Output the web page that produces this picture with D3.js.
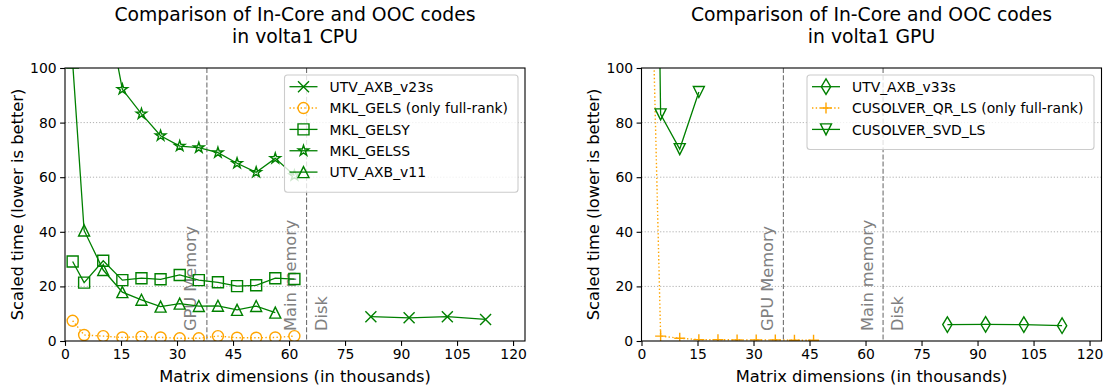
<!DOCTYPE html>
<html><head><meta charset="utf-8">
<script src="https://cdn.jsdelivr.net/npm/d3@7"></script>
<style>body{margin:0;background:#fff;} text{font-family:"DejaVu Sans",sans-serif;}</style>
</head><body><svg id="c" width="1108" height="387"></svg>
<script>
// ---------- data ----------
const xCore = [2.048, 5.12, 10.24, 15.36, 20.48, 25.6, 30.72, 35.84, 40.96, 46.08, 51.2, 56.32, 61.44];
const xOOC = [81.92, 92.16, 102.4, 112.64];
const xGelss = [10.24, 15.36, 20.48, 25.6, 30.72, 35.84, 40.96, 46.08, 51.2, 56.32, 61.44];
const xV11 = [2.048, 5.12, 10.24, 15.36, 20.48, 25.6, 30.72, 35.84, 40.96, 46.08, 51.2, 56.32];
const xQR = [2.048, 5.12, 10.24, 15.36, 20.48, 25.6, 30.72, 35.84, 40.96, 46.08];
const xSVD = [2.048, 5.12, 10.24, 15.36];

const yV23s = [8.9, 8.5, 8.9, 7.9];
const yGels = [7.4, 2.2, 1.8, 1.3, 1.6, 1.3, 1.0, 1.0, 1.8, 1.2, 1.2, 1.3, 1.8];
const yGelsy = [29.1, 21.4, 29.4, 22.3, 23.0, 22.6, 24.2, 22.3, 21.5, 20.1, 20.4, 23.0, 22.7];
const yGelss = [129, 92.2, 83.2, 75.2, 71.4, 70.8, 69.0, 65.1, 61.8, 66.9, 60.6];
const yV11 = [102, 40.5, 26.0, 17.9, 15.1, 12.6, 13.7, 12.8, 12.9, 11.4, 12.8, 10.4];
const yV33s = [6.0, 6.1, 6.0, 5.6];
const yQR = [175, 1.8, 1.0, 0.5, 0.5, 0.4, 0.4, 0.4, 0.3, 0.3];
const ySVD = [400, 83.0, 70.3, 91.2];

const xTicks = [0, 15, 30, 45, 60, 75, 90, 105, 120];
const yTicks = [0, 20, 40, 60, 80, 100];
const gpuMem = 38, mainMem = 64.7;

const GREEN = "#008000", ORANGE = "#FFA500";

const panels = [
  {
    title: ["Comparison of In-Core and OOC codes", "in volta1 CPU"],
    left: 65,
    mainText: "Main memory",
    series: [
      {name: "UTV_AXB_v23s", x: xOOC, y: yV23s, color: GREEN, marker: "x", dotted: false},
      {name: "MKL_GELS (only full-rank)", x: xCore, y: yGels, color: ORANGE, marker: "o", dotted: true},
      {name: "MKL_GELSY", x: xCore, y: yGelsy, color: GREEN, marker: "s", dotted: false},
      {name: "MKL_GELSS", x: xGelss, y: yGelss, color: GREEN, marker: "*", dotted: false},
      {name: "UTV_AXB_v11", x: xV11, y: yV11, color: GREEN, marker: "^", dotted: false}
    ],
    legend: {x: 284.5, w: 233.5}
  },
  {
    title: ["Comparison of In-Core and OOC codes", "in volta1 GPU"],
    left: 641.5,
    mainText: "Main memory",
    series: [
      {name: "UTV_AXB_v33s", x: xOOC, y: yV33s, color: GREEN, marker: "d", dotted: false},
      {name: "CUSOLVER_QR_LS (only full-rank)", x: xQR, y: yQR, color: ORANGE, marker: "+", dotted: true},
      {name: "CUSOLVER_SVD_LS", x: xSVD, y: ySVD, color: GREEN, marker: "v", dotted: false}
    ],
    legend: {x: 807, w: 287}
  }
];

// ---------- drawing ----------
const svg = d3.select("#c");
const W = 460, TOP = 68, BOT = 341;
const M = 5.5; // half marker size

function markerPath(type) {
  const p = d3.path();
  switch (type) {
    case "x": p.moveTo(-M,-M); p.lineTo(M,M); p.moveTo(-M,M); p.lineTo(M,-M); break;
    case "+": p.moveTo(-M,0); p.lineTo(M,0); p.moveTo(0,-M); p.lineTo(0,M); break;
    case "s": p.rect(-M,-M,2*M,2*M); break;
    case "o": p.moveTo(M,0); p.arc(0,0,M,0,2*Math.PI); p.closePath(); break;
    case "^": p.moveTo(0,-M); p.lineTo(-M,M); p.lineTo(M,M); p.closePath(); break;
    case "v": p.moveTo(0,M); p.lineTo(-M,-M); p.lineTo(M,-M); p.closePath(); break;
    case "d": { const h = M*1.4142, w = h*0.6; p.moveTo(0,-h); p.lineTo(w,0); p.lineTo(0,h); p.lineTo(-w,0); p.closePath(); break; }
    case "*": {
      const ri = M*0.381966;
      for (let i = 0; i < 10; i++) {
        const r = i % 2 ? ri : M, a = -Math.PI/2 + i*Math.PI/5;
        const px = r*Math.cos(a), py = r*Math.sin(a);
        if (i === 0) p.moveTo(px,py); else p.lineTo(px,py);
      }
      p.closePath(); break;
    }
  }
  return p.toString();
}

panels.forEach((P, pi) => {
  const x = d3.scaleLinear().domain([0, 123.2]).range([P.left, P.left + W]);
  const y = d3.scaleLinear().domain([0, 100]).range([BOT, TOP]);
  const g = svg.append("g");
  const cx = P.left + W/2;

  // title
  P.title.forEach((t, i) => g.append("text").attr("x", cx).attr("y", 21 + i*21.5)
    .attr("text-anchor", "middle").style("font-size", "18.8px").attr("fill", "#000").text(t));

  // clip
  const cid = "clip" + pi;
  svg.append("clipPath").attr("id", cid).append("rect")
    .attr("x", P.left).attr("y", TOP).attr("width", W).attr("height", BOT - TOP);

  // grid
  g.append("g").selectAll("line").data(yTicks.slice(1, -1)).join("line")
    .attr("x1", P.left).attr("x2", P.left + W)
    .attr("y1", d => y(d)).attr("y2", d => y(d))
    .attr("stroke", "#b0b0b0").attr("stroke-width", 1).attr("stroke-dasharray", "1.2,1.9");

  // memory lines
  [gpuMem, mainMem].forEach(m => {
    g.append("line").attr("x1", x(m)).attr("x2", x(m)).attr("y1", TOP).attr("y2", BOT)
      .attr("stroke", "#707070").attr("stroke-width", 1.1).attr("stroke-dasharray", "5,2.2");
  });
  const ann = [
    {x: x(gpuMem) - 10.5, t: "GPU Memory"},
    {x: x(mainMem) - 10.2, t: P.mainText},
    {x: x(mainMem) + 20.2, t: "Disk"}
  ];
  ann.forEach(a => g.append("text").attr("transform", `translate(${a.x},331) rotate(-90)`)
    .attr("text-anchor", "start").style("font-size", "16.2px").attr("fill", "#808080").text(a.t));

  // series
  const plot = g.append("g").attr("clip-path", `url(#${cid})`);
  const line = d3.line().x(d => x(d[0])).y(d => y(d[1]));
  P.series.forEach(s => {
    const pts = s.x.map((v, i) => [v, s.y[i]]);
    plot.append("path").attr("d", line(pts)).attr("fill", "none").attr("stroke", s.color)
      .attr("stroke-width", s.dotted ? 1.4 : 1.3).attr("stroke-dasharray", s.dotted ? "1.4,2.3" : null);
    plot.append("g").selectAll("path").data(pts).join("path")
      .attr("transform", d => `translate(${x(d[0])},${y(d[1])})`)
      .attr("d", markerPath(s.marker)).attr("fill", "none").attr("stroke", s.color).attr("stroke-width", 1.4);
  });

  // spines
  g.append("rect").attr("x", P.left).attr("y", TOP).attr("width", W).attr("height", BOT - TOP)
    .attr("fill", "none").attr("stroke", "#000").attr("stroke-width", 1.1);

  // axes
  const xa = g.append("g").attr("transform", `translate(0,${BOT})`)
    .call(d3.axisBottom(x).tickValues(xTicks).tickSize(4.9).tickPadding(3.5).tickFormat(d3.format("d")));
  const ya = g.append("g").attr("transform", `translate(${P.left},0)`)
    .call(d3.axisLeft(y).tickValues(yTicks).tickSize(4.9).tickPadding(3.5).tickFormat(d3.format("d")));
  [xa, ya].forEach(a => {
    a.select(".domain").remove();
    a.selectAll("line").attr("stroke", "#000").attr("stroke-width", 1.1);
    a.selectAll("text").style("font-size", "13.9px").attr("fill", "#000").style("font-family", "DejaVu Sans");
  });

  // axis labels
  g.append("text").attr("x", cx).attr("y", 382).attr("text-anchor", "middle")
    .style("font-size", "16.3px").text("Matrix dimensions (in thousands)");
  g.append("text").attr("transform", `translate(${P.left - 42.3},${(TOP + BOT)/2}) rotate(-90)`)
    .attr("text-anchor", "middle").style("font-size", "16.3px").text("Scaled time (lower is better)");

  // legend
  const n = P.series.length, rowH = 21.35;
  const L = P.legend, ly = 75, lh = 11 + n*rowH - 0.5;
  g.append("rect").attr("x", L.x).attr("y", ly).attr("width", L.w).attr("height", lh).attr("rx", 3)
    .attr("fill", "#fff").attr("fill-opacity", 0.8).attr("stroke", "#cccccc").attr("stroke-width", 1.1);
  P.series.forEach((s, i) => {
    const cy = 86.7 + i*rowH, lx = L.x + 5;
    g.append("line").attr("x1", lx).attr("x2", lx + 28).attr("y1", cy).attr("y2", cy)
      .attr("stroke", s.color).attr("stroke-width", s.dotted ? 1.4 : 1.3).attr("stroke-dasharray", s.dotted ? "1.4,2.3" : null);
    g.append("path").attr("transform", `translate(${lx + 14},${cy})`).attr("d", markerPath(s.marker))
      .attr("fill", "none").attr("stroke", s.color).attr("stroke-width", 1.4);
    g.append("text").attr("x", lx + 40).attr("y", cy + 5.2).style("font-size", "13.9px").text(s.name);
  });
});
</script></body></html>
